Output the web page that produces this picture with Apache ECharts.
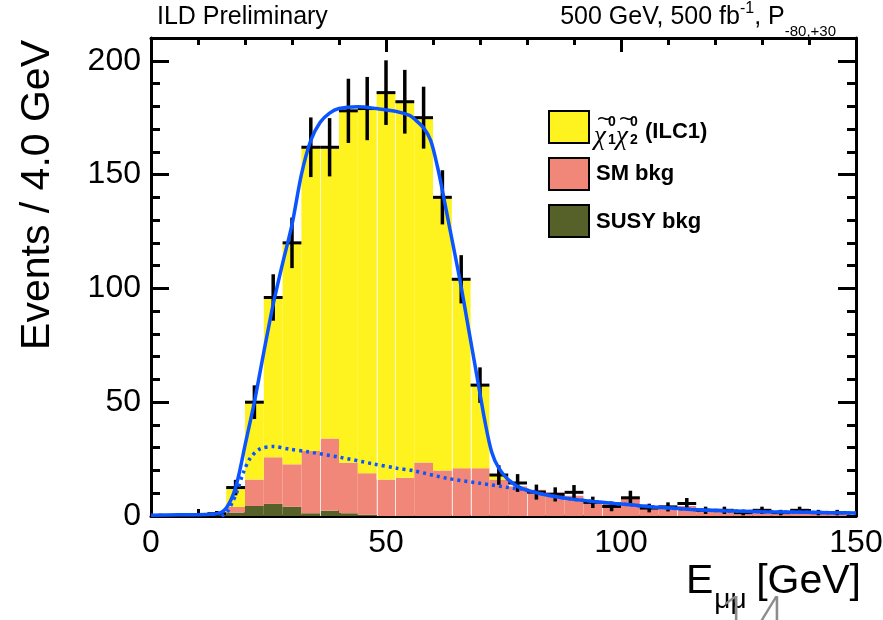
<!DOCTYPE html>
<html>
<head>
<meta charset="utf-8">
<script src="https://cdn.jsdelivr.net/npm/echarts/dist/echarts.min.js"></script>
<style>
html,body{margin:0;padding:0;background:#ffffff;}
#chart{width:883px;height:620px;}
</style>
</head>
<body>
<div id="chart"></div>
<script>
// ---------------- data ----------------
const binWidth = 4.0; // GeV
const binCenters = [2,6,10,14,18,22,26,30,34,38,42,46,50,54,58,62,66,70,74,78,82,86,90,94,98,102,106,110,114,118,122,126,130,134,138,142,146];
const dataCounts = [0,0,0,1,12.5,50,96,120,162,162,178,179,186,182,175,140,104,57.5,18,14.5,10.5,9.5,10.4,6,4.2,8,3.5,4,5.5,2.5,2.5,1.5,2.5,1.5,2.5,1.5,1.5];
const dataErrors = [1,1,1,1.2,3.4,7.4,10.2,11.1,13.1,12.8,14.1,13.9,14.2,14,13.6,11.9,10.6,7.8,4.3,3.9,3.3,3.1,3.2,2.5,2.1,3.1,1.9,2,2.4,1.6,1.6,1.2,1.6,1.2,1.6,1.2,1.2];
const signalCounts = [0,0,0,0.4,8.5,34,70.2,97.3,133.4,128,154.6,160.2,170,165.2,151.5,120,83,36.5,2,0,0,0,0,0,0,0,0,0,0,0,0,0,0,0,0,0,0];
const smBkgCounts = [0,0,0,0.3,2.5,11.6,20.5,18.6,27.4,31.7,22.2,18.3,16,16.8,23.5,20,21,21,16,13,11.5,10.4,8.9,6.7,5.9,8.2,4,4,4.4,2.5,2.5,1.8,2,1.5,1.8,1.2,1.2];
const susyBkgCounts = [0,0,0,0.3,1.5,4.4,5.3,4.1,1.2,2.3,1.2,0.5,0,0,0,0,0,0,0,0,0,0,0,0,0,0,0,0,0,0,0,0,0,0,0,0,0];
// bin edges where the stacked fill shows a thin light seam in the reference
const seamEdges = [36,48,52,64,68,80,96,112];

const fitTotalX = [0,6,10,13,14,15,16,17,18,19,20,21,22,24,26,28,30,32,34,36,38,40,44,48,52,55,56,58,59.5,61,62,63.6,65.7,67.5,69.3,71.1,72.5,74,76,79,84,90,96,102,108,115,122,130,140,150];
const fitTotalY = [0.3,0.5,0.6,0.8,1,1.6,3.5,7,12.5,21,31,40.5,50,72,93,111,128,150,165,173,177,179,179.8,179,177.8,176,174.5,170.5,165,153,143,126,104,83,62,41,28,21,16,12,9.3,7.3,6,4.9,3.8,2.9,2.3,1.9,1.6,1.3];
const fitBkgX = [15,15.7,16.5,17.3,18.2,19.6,21.1,23.2,26,29.6,33.1,40.2,47.3,52.3,55.8,62.9,70,77.1,79,84,90,96,102,108,115,122,130,140,150];
const fitBkgY = [0,0.8,2.6,6,10,18.8,25.4,29.5,30.5,29.3,28.3,25.8,22.9,21,19.9,16.6,14.4,12.2,11.8,9.3,7.3,6,4.9,3.8,2.9,2.3,1.9,1.6,1.3];

const xTickLabels = [0,50,100,150];
const yTickLabels = [0,50,100,150,200];
const legendLabels = ['(ILC1)','SM bkg','SUSY bkg'];

// ---------------- styles ----------------
const FONT = '"Liberation Sans", Arial, Helvetica, sans-serif';
const C_SIG = '#fff31f', C_SM = '#f08778', C_SUSY = '#556128', C_FIT = '#0a55ff';
const GRID = {left:151, right:27, top:38, bottom:104};

// build stacked rectangles
const susyRects = [], smRects = [], sigRects = [], points = [];
const stackTop = [];
binCenters.forEach((c, i) => {
  const lo = c - binWidth/2, hi = c + binWidth/2;
  const s = susyBkgCounts[i], m = smBkgCounts[i], g = signalCounts[i];
  susyRects.push([lo, hi, 0, s]);
  smRects.push([lo, hi, s, s + m]);
  sigRects.push([lo, hi, s + m, s + m + g]);
  stackTop.push(s + m + g);
  points.push([c, dataCounts[i], dataErrors[i]]);
});
const seams = seamEdges.map(e => {
  const iR = binCenters.indexOf(e + binWidth/2), iL = binCenters.indexOf(e - binWidth/2);
  return [e, Math.min(stackTop[iL], stackTop[iR])];
});
const fitTotal = fitTotalX.map((x, i) => [x, fitTotalY[i]]);
const fitBkg = fitBkgX.map((x, i) => [x, fitBkgY[i]]);

function histRender(params, api) {
  const lo = api.value(0), hi = api.value(1), b = api.value(2), t = api.value(3);
  if (!(t > b)) return null;
  const p0 = api.coord([lo, b]), p1 = api.coord([hi, t]);
  const cs = params.coordSys;
  const r = echarts.graphic.clipRectByRect(
    {x: p0[0], y: p1[1], width: p1[0] - p0[0], height: p0[1] - p1[1]},
    {x: cs.x, y: cs.y, width: cs.width, height: cs.height});
  if (!r) return null;
  return {type: 'rect', shape: r, style: {fill: api.visual('color')}};
}
function seamRender(params, api) {
  const p0 = api.coord([api.value(0), 0]), p1 = api.coord([api.value(0), api.value(1)]);
  const x = Math.round(p0[0]) + 0.5;
  return {type: 'line', shape: {x1: x, y1: p0[1], x2: x, y2: p1[1]}, style: {stroke: 'rgba(255,255,255,0.75)', lineWidth: 1}};
}
function dataRender(params, api) {
  const c = api.value(0), v = api.value(1), e = api.value(2);
  const pL = api.coord([c - binWidth/2, v]), pR = api.coord([c + binWidth/2, v]);
  const pT = api.coord([c, v + e]), pB = api.coord([c, Math.max(v - e, 0)]);
  return {type: 'group', children: [
    {type: 'line', shape: {x1: pL[0], y1: pL[1], x2: pR[0], y2: pR[1]}, style: {stroke: '#000', lineWidth: 3}},
    {type: 'line', shape: {x1: pT[0], y1: pT[1], x2: pB[0], y2: pB[1]}, style: {stroke: '#000', lineWidth: 3.5}}
  ]};
}

function xAxis(pos, gridIndex, labels, show) {
  return {
    type: 'value', gridIndex, position: pos, show: show,
    min: xTickLabels[0], max: xTickLabels[xTickLabels.length - 1], interval: 50,
    axisLine: {show: true, onZero: false, lineStyle: {color: '#000', width: 3}},
    axisTick: {show: true, inside: true, length: 14, lineStyle: {color: '#000', width: 3}},
    minorTick: {show: true, splitNumber: 5, length: 7, lineStyle: {color: '#000', width: 3}},
    axisLabel: {show: labels, margin: 11, fontSize: 32, color: '#000', fontFamily: FONT,
      formatter: v => xTickLabels.indexOf(v) >= 0 ? String(v) : ''},
    splitLine: {show: false}, minorSplitLine: {show: false}
  };
}
function yAxis(pos, gridIndex, interval, tickLen, labels, line) {
  return {
    type: 'value', gridIndex, position: pos, min: 0, max: 210, interval,
    axisLine: {show: line, onZero: false, lineStyle: {color: '#000', width: 3}},
    axisTick: {show: true, inside: true, length: tickLen, lineStyle: {color: '#000', width: 3}},
    minorTick: {show: false},
    axisLabel: {show: labels, margin: 10, fontSize: 32, color: '#000', fontFamily: FONT,
      formatter: v => yTickLabels.indexOf(v) >= 0 ? String(v) : ''},
    splitLine: {show: false}
  };
}

// text helpers
const mctx = document.createElement('canvas').getContext('2d');
function tw(t, font) { mctx.font = font; return mctx.measureText(t).width; }
function txt(x, y, t, font, align, extra, fill) {
  return Object.assign({type: 'text', x, y, z: 100, style: {text: t, font, fill: fill || '#000',
    textAlign: align || 'left', align: align || 'left', textVerticalAlign: 'middle', verticalAlign: 'middle'}}, extra || {});
}
const F25 = '25px ' + FONT, F16 = '16px ' + FONT, F15 = '15px ' + FONT;
const graphics = [];
// header
graphics.push(txt(157, 17, 'ILD Preliminary', F25));
const hdr = [['500 GeV, 500 fb', F25, 17], ['-1', F16, 9], [', P', F25, 17], ['-80,+30', F15, 32]];
let hx = 836 - hdr.reduce((s, p) => s + tw(p[0], p[1]), 0);
hdr.forEach(p => { graphics.push(txt(hx, p[2], p[0], p[1])); hx += tw(p[0], p[1]); });
// axis titles
graphics.push(txt(38, 40, 'Events / 4.0 GeV', '41px ' + FONT, 'right', {rotation: Math.PI / 2}));
graphics.push(txt(686, 582, 'E', '41px ' + FONT));
graphics.push(txt(686 + tw('E', '41px ' + FONT) + 1, 600, 'μμ', '28px ' + FONT));
graphics.push(txt(861, 582, '[GeV]', '41px ' + FONT, 'right'));
// partially visible grey page marks at the bottom edge
graphics.push(txt(722, 620, '1', '200 56px Inter, ' + FONT, 'left', null, '#8c8c8c'));
graphics.push(txt(753, 620, '4', '200 56px Inter, ' + FONT, 'left', null, '#8c8c8c'));
// legend
const boxes = [[111, C_SIG], [158, C_SM], [205, C_SUSY]];
boxes.forEach(b => graphics.push({type: 'rect', z: 100, shape: {x: 549, y: b[0], width: 40, height: 32},
  style: {fill: b[1], stroke: '#000', lineWidth: 2}}));
const FB22 = 'bold 22px ' + FONT, FCHI = 'italic 27px "Liberation Serif", serif', FS = 'bold 14px ' + FONT, FT = '20px "DejaVu Sans", ' + FONT;
graphics.push(txt(594, 137, 'χ', FCHI)); graphics.push(txt(596, 120, '~', FT));
graphics.push(txt(608, 122, '0', FS)); graphics.push(txt(608, 140, '1', FS));
graphics.push(txt(616, 137, 'χ', FCHI)); graphics.push(txt(618, 120, '~', FT));
graphics.push(txt(630, 122, '0', FS)); graphics.push(txt(630, 140, '2', FS));
graphics.push(txt(645, 132, legendLabels[0], FB22));
graphics.push(txt(596, 174, legendLabels[1], FB22));
graphics.push(txt(596, 222, legendLabels[2], FB22));

const option = {
  animation: false,
  backgroundColor: '#ffffff',
  grid: [
    Object.assign({outerBoundsMode: 'none', containLabel: false}, GRID),
    Object.assign({outerBoundsMode: 'none', containLabel: false}, GRID)
  ],
  xAxis: [
    xAxis('bottom', 0, true, true),
    xAxis('top', 0, false, true),
    xAxis('bottom', 1, false, false)
  ],
  yAxis: [
    yAxis('left', 0, 50, 18, true, true),
    yAxis('right', 0, 50, 18, false, true),
    yAxis('left', 1, 10, 9, false, false),
    yAxis('right', 1, 10, 9, false, false)
  ],
  series: [
    {type: 'custom', name: 'SUSY bkg', xAxisIndex: 0, yAxisIndex: 0, renderItem: histRender, data: susyRects, itemStyle: {color: C_SUSY}, clip: true, z: 1},
    {type: 'custom', name: 'SM bkg', xAxisIndex: 0, yAxisIndex: 0, renderItem: histRender, data: smRects, itemStyle: {color: C_SM}, clip: true, z: 1},
    {type: 'custom', name: 'signal', xAxisIndex: 0, yAxisIndex: 0, renderItem: histRender, data: sigRects, itemStyle: {color: C_SIG}, clip: true, z: 1},
    {type: 'custom', name: 'seams', xAxisIndex: 0, yAxisIndex: 0, renderItem: seamRender, data: seams, clip: true, z: 2, silent: true},
    {type: 'custom', name: 'data', xAxisIndex: 0, yAxisIndex: 0, renderItem: dataRender, data: points, clip: true, z: 3},
    {type: 'line', name: 'fit bkg', xAxisIndex: 0, yAxisIndex: 0, data: fitBkg, smooth: 0.3, showSymbol: false, symbol: 'none',
      lineStyle: {color: C_FIT, width: 3.5, type: [3, 4]}, clip: true, z: 4},
    {type: 'line', name: 'fit total', xAxisIndex: 0, yAxisIndex: 0, data: fitTotal, smooth: 0.3, showSymbol: false, symbol: 'none',
      lineStyle: {color: C_FIT, width: 3.5}, clip: true, z: 5}
  ],
  graphic: graphics
};
const chart = echarts.init(document.getElementById('chart'), null, {renderer: 'canvas', width: 883, height: 620});
chart.setOption(option);
</script>
</body>
</html>
